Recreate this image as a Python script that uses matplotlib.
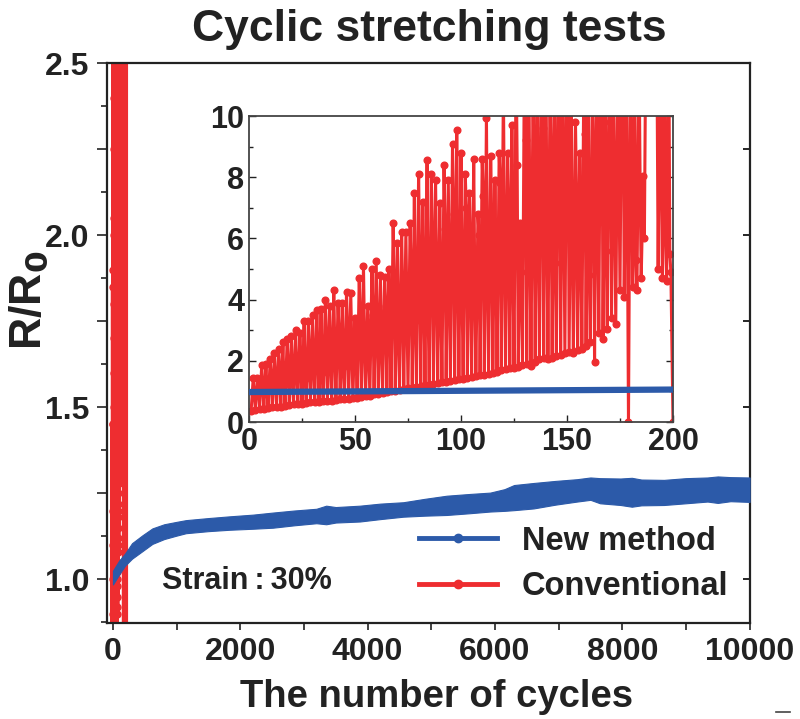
import numpy as np
import matplotlib
matplotlib.use('Agg')
import matplotlib.pyplot as plt
from matplotlib.lines import Line2D
from matplotlib.ticker import MultipleLocator, FuncFormatter

plt.rcParams['font.family'] = ['Liberation Sans', 'DejaVu Sans']
plt.rcParams['font.weight'] = 'bold'
plt.rcParams['axes.labelweight'] = 'bold'

BLUE = '#2c5aa9'
RED = '#ee2d30'

# New method: envelope of the oscillating R/R0 band over 10000 cycles
new_cycles = [0, 100, 191, 300, 464, 620, 805, 1000, 1147, 1500, 1829, 2200, 2512,
              2850, 3195, 3350, 3500, 3877, 4200, 4560, 4900, 5242, 5600, 5925, 6150, 6300,
              6608, 6950, 7290, 7500, 7650, 7973, 8150, 8300, 8655, 9000, 9338, 9500, 9700, 10000]
new_upper = [1.025, 1.055, 1.075, 1.105, 1.128, 1.148, 1.16, 1.167, 1.172, 1.178, 1.183, 1.188, 1.194,
             1.2, 1.205, 1.214, 1.21, 1.214, 1.22, 1.224, 1.234, 1.243, 1.248, 1.252, 1.262, 1.274,
             1.28, 1.286, 1.291, 1.296, 1.294, 1.293, 1.295, 1.29, 1.289, 1.294, 1.296, 1.299, 1.297, 1.296]
new_lower = [0.985, 1.015, 1.04, 1.06, 1.082, 1.103, 1.117, 1.127, 1.134, 1.14, 1.144, 1.147, 1.15,
             1.157, 1.163, 1.16, 1.165, 1.168, 1.175, 1.182, 1.185, 1.187, 1.192, 1.197, 1.199, 1.201,
             1.206, 1.217, 1.226, 1.231, 1.221, 1.216, 1.211, 1.215, 1.216, 1.221, 1.226, 1.222, 1.227, 1.225]

# New method, first 200 cycles (inset)
new_inset_cycles = [0, 50, 100, 150, 200]
new_inset_values = [0.98, 1.0, 1.02, 1.04, 1.06]

# Conventional: per pair of cycles a minimum (odd cycle), a maximum (even cycle)
# and an intermediate reading half a cycle later
conv_low = [0.36, 0.4, 0.42, 0.44, 0.46, 0.48, 0.5, 0.5, 0.52, 0.55,
            0.58, 0.6, 0.6, 0.62, 0.64, 0.65, 0.66, 0.68, 0.7, 0.7,
            0.72, 0.74, 0.75, 0.75, 0.78, 0.8, 0.82, 0.85, 0.86, 0.9,
            0.92, 0.95, 0.98, 1.0, 1.02, 1.05, 1.08, 1.1, 1.12, 1.15,
            1.18, 1.2, 1.22, 1.25, 1.28, 1.3, 1.32, 1.35, 1.36, 1.4,
            1.42, 1.45, 1.48, 1.5, 1.52, 1.55, 1.58, 1.6, 1.65, 1.7,
            1.72, 1.75, 1.78, 1.8, 1.85, 1.9, 1.82, 1.95, 2.05, 2.1,
            2.05, 2.1, 2.15, 2.2, 2.25, 2.3, 2.25, 2.35, 2.4, 2.5,
            2.6, 1.95, 2.9, 2.7, 3.05, 3.4, 3.2, 4.3, 4.1, 0.0,
            4.4, 4.3, 4.7, 11.0, 12.0, 11.5, 5.0, 4.7, 4.6, 4.9]
conv_high = [1.45, 1.45, 1.85, 1.9, 2.05, 2.25, 2.4, 2.6, 2.7, 2.8,
             3.0, 2.9, 3.3, 3.3, 3.5, 3.65, 3.7, 4.0, 3.8, 4.3,
             3.9, 3.9, 4.25, 4.2, 3.4, 4.7, 5.1, 3.8, 5.0, 5.25,
             4.8, 4.75, 5.0, 6.5, 5.85, 6.2, 6.2, 6.5, 7.5, 8.1,
             7.2, 8.55, 8.1, 7.9, 7.15, 8.4, 7.9, 9.1, 9.55, 8.8,
             8.1, 7.5, 8.6, 6.8, 8.6, 9.95, 8.7, 7.9, 8.8, 11.0,
             8.8, 9.7, 12.0, 6.5, 13.0, 12.0, 11.0, 14.0, 12.0, 13.0,
             11.0, 12.0, 14.0, 12.0, 13.0, 11.0, 9.8, 8.8, 12.0, 13.0,
             11.0, 12.0, 14.0, 12.0, 13.0, 11.0, 12.0, 14.0, 12.0, 13.0,
             11.0, 12.0, 8.05, 14.0, 13.0, 12.0, 14.0, 12.0, 13.0, 0.0]
conv_mid = [0.9, 1.1, 1.2, 1.0, 1.4, 1.3, 1.6, 1.2, 1.8, 1.5,
            1.7, 2.0, 1.4, 2.2, 1.9, 2.4, 1.6, 2.6, 2.1, 2.3,
            2.9, 1.8, 3.0, 2.5, 2.2, 3.3, 2.7, 2.4, 3.5, 3.0,
            2.6, 3.8, 3.2, 4.5, 2.9, 4.1, 3.6, 4.8, 3.3, 5.4,
            4.4, 3.6, 5.9, 4.9, 3.9, 6.3, 4.5, 6.8, 5.2, 4.3,
            7.0, 5.6, 4.6, 6.1, 7.4, 5.0, 6.6, 5.3, 7.8, 6.0,
            6.8, 5.5, 8.4, 4.9, 9.2, 6.2, 7.7, 5.8, 9.6, 6.6,
            8.1, 5.2, 9.0, 6.9, 10.5, 5.9, 7.3, 6.2, 9.4, 4.8,
            8.6, 6.5, 11.0, 5.6, 9.8, 7.1, 8.2, 11.5, 6.4, 9.0,
            5.3, 7.7, 6.0, 12.5, 13.0, 11.0, 8.0, 6.0, 5.5, 0.0]

k = np.arange(100)
conv_cycles = np.column_stack([2 * k + 1, 2 * k + 2, 2 * k + 2.5]).ravel()
conv_values = np.column_stack([conv_low, conv_high, conv_mid]).ravel()

fig = plt.figure(figsize=(8, 7.19), dpi=100)

# main axes
ax = fig.add_axes([0.134, 0.134, 0.803, 0.778])
ax.plot(conv_cycles, conv_values, color=RED, lw=3.5, marker='o', ms=5, zorder=2)
ax.fill_between(new_cycles, new_lower, new_upper, color=BLUE, lw=0.8, edgecolor=BLUE, zorder=3)
ax.set_xlim(-90, 10000)
ax.set_ylim(0.874, 2.5)
ax.xaxis.set_major_locator(MultipleLocator(2000))
ax.xaxis.set_minor_locator(MultipleLocator(1000))
ax.yaxis.set_major_locator(MultipleLocator(0.25))
ax.yaxis.set_minor_locator(MultipleLocator(0.125))
ax.yaxis.set_major_formatter(FuncFormatter(lambda v, p: f'{v:.1f}' if abs(v * 2 - round(v * 2)) < 1e-6 else ''))
ax.tick_params(axis='both', which='both', direction='out', width=1.2, labelsize=23, colors='#222222')
ax.tick_params(axis='x', which='both', length=5, pad=5)
ax.tick_params(axis='y', which='major', length=7, pad=6)
ax.tick_params(axis='y', which='minor', length=4)
for s in ax.spines.values():
    s.set_linewidth(1.6)
    s.set_color('#222222')
sec = ax.secondary_yaxis('right')
sec.yaxis.set_major_locator(MultipleLocator(0.25))
sec.tick_params(direction='in', length=5, width=1.2, labelright=False)
sec.spines['right'].set_visible(False)

ax.set_xlabel('The number of cycles', fontsize=27.5, color='#222222')
ax.xaxis.set_label_coords(0.5125, -0.1)
fig.text(0.036, 1 - 300 / 719, r'R/R$_\mathbf{0}$', rotation=90, fontsize=32, fontweight='bold',
         color='#222222', ha='center', va='center')
fig.text(429 / 800, 1 - 30 / 719, 'Cyclic stretching tests', fontsize=32, fontweight='bold',
         color='#222222', ha='center', va='center')
ax.text(0.085, 0.075, 'Strain\u2009:\u200930%', transform=ax.transAxes, fontsize=22,
        color='#222222', ha='left', va='center')

handles = [Line2D([], [], color=BLUE, lw=3.5, marker='o', ms=6),
           Line2D([], [], color=RED, lw=3.5, marker='o', ms=6)]
fig.legend(handles, ['New method', 'Conventional'], loc='center left',
           bbox_to_anchor=(419 / 800, 1 - 564 / 719), frameon=False, fontsize=23.5,
           handlelength=2.4, handletextpad=0.75, labelspacing=0.45, borderpad=0, borderaxespad=0,
           labelcolor='#222222')

# inset
axi = fig.add_axes([249 / 800, 1 - 422 / 719, 424 / 800, 306 / 719])
axi.plot(conv_cycles, conv_values, color=RED, lw=2.2, marker='o', ms=4.8, zorder=2)
axi.plot(new_inset_cycles, new_inset_values, color=BLUE, lw=4.5, zorder=3)
axi.set_xlim(0, 200)
axi.set_ylim(0, 10)
axi.xaxis.set_major_locator(MultipleLocator(50))
axi.xaxis.set_minor_locator(MultipleLocator(25))
axi.yaxis.set_major_locator(MultipleLocator(2))
axi.yaxis.set_minor_locator(MultipleLocator(1))
axi.tick_params(axis='both', which='both', direction='in', right=True, width=1.0,
                labelsize=22, colors='#222222')
axi.tick_params(which='major', length=5)
axi.tick_params(which='minor', length=3)
for s in axi.spines.values():
    s.set_linewidth(1.3)
    s.set_color('#444444')

fig.add_artist(Line2D([776 / 800, 790 / 800], [1 - 712 / 719] * 2, color='#444444', lw=1.2))

fig.savefig('out.png', dpi=100)
